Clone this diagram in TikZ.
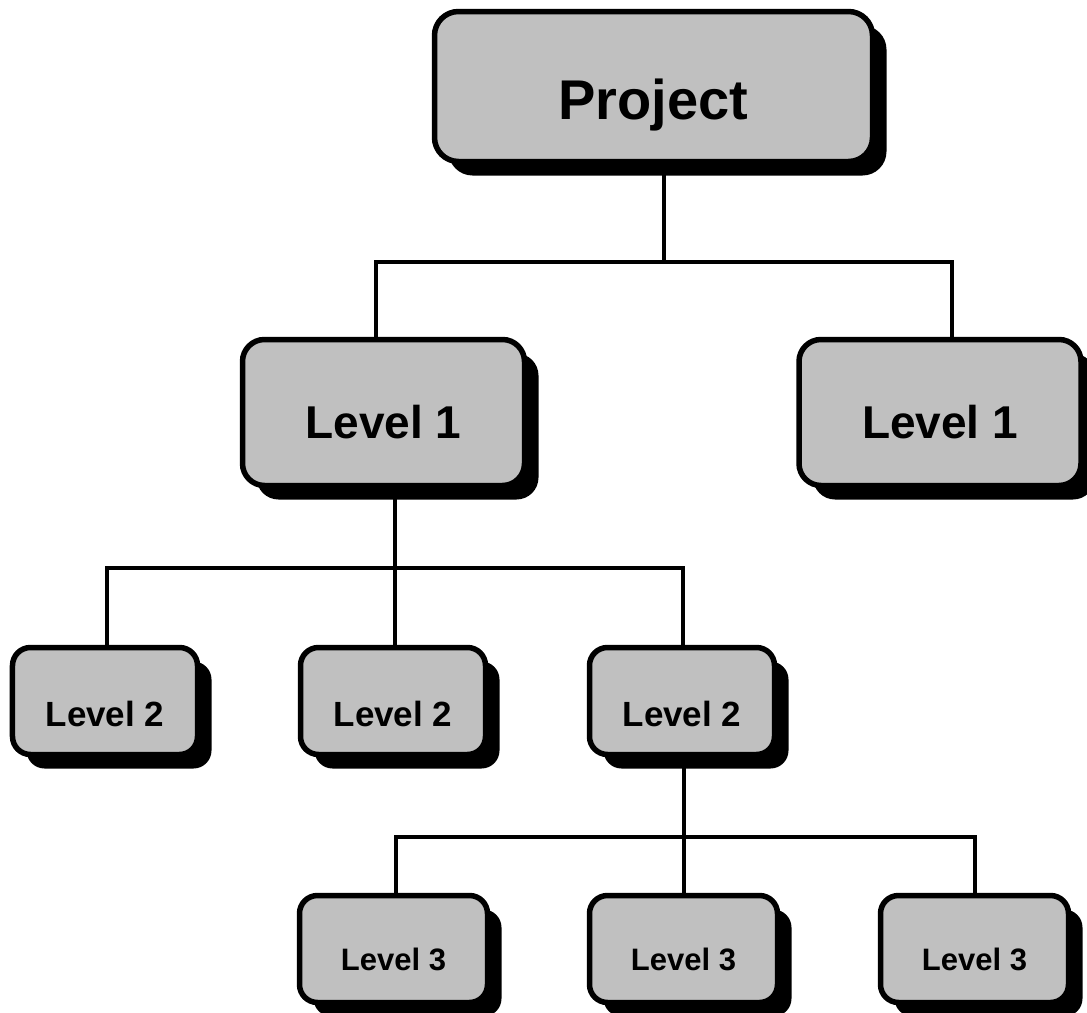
\documentclass[tikz,border=0pt]{standalone}
\usepackage{fontspec}
\setmainfont{Liberation Sans}
\usetikzlibrary{shadows}
\definecolor{boxgray}{HTML}{C0C0C0}
\begin{document}
\begin{tikzpicture}[x=1bp,y=-1bp,
  box/.style={draw=black, fill=boxgray, line width=5.5bp, rectangle,
    inner sep=0pt, text depth=0pt, font=\bfseries,
    drop shadow={shadow xshift=14bp, shadow yshift=-14bp, fill=black, opacity=1}},
  topbox/.style={box, rounded corners=24bp, minimum width=438bp, minimum height=150bp,
    text height=66bp, font=\bfseries\fontsize{56bp}{60bp}\selectfont},
  onebox/.style={box, rounded corners=22bp, minimum width=282bp, minimum height=146bp,
    text height=51bp, font=\bfseries\fontsize{46bp}{50bp}\selectfont},
  twobox/.style={box, rounded corners=18bp, minimum width=185bp, minimum height=107bp,
    text height=50bp, font=\bfseries\fontsize{35bp}{38bp}\selectfont},
  threebox/.style={box, rounded corners=18bp, minimum width=188bp, minimum height=107bp,
    text height=42bp, font=\bfseries\fontsize{31bp}{34bp}\selectfont},
  wire/.style={line width=4.5bp, line join=miter}]
\useasboundingbox (0,0) rectangle (1087,1013);

% boxes
\node[topbox] (proj) at (653.5,86.5) {Project};
\node[onebox] (l1a) at (383.5,412.5) {Level 1};
\node[onebox] (l1b) at (940,412.5) {Level 1};
\node[twobox] (l2a) at (105,701) {Level 2};
\node[twobox] (l2b) at (393,701) {Level 2};
\node[twobox] (l2c) at (682,701) {Level 2};
\node[threebox] (l3a) at (393.5,949) {Level 3};
\node[threebox] (l3b) at (683.5,949) {Level 3};
\node[threebox] (l3c) at (974.5,949) {Level 3};

% bus bars
\coordinate (b1m) at (664,262);
\coordinate (b1l) at (376,262);
\coordinate (b1r) at (952,262);
\coordinate (b2m) at (395,568);
\coordinate (b2l) at (107,568);
\coordinate (b2r) at (683,568);
\coordinate (b3m) at (684,837);
\coordinate (b3l) at (396,837);
\coordinate (b3r) at (975,837);

% connectors
\draw[wire] (proj.south -| b1m) -- (b1m);
\draw[wire] (l1a.north -| b1l) -- (b1l) -- (b1r) -- (l1b.north -| b1r);

\draw[wire] (l1a.south -| b2m) -- (l2b.north -| b2m);
\draw[wire] (l2a.north -| b2l) -- (b2l) -- (b2r) -- (l2c.north -| b2r);

\draw[wire] (l2c.south -| b3m) -- (l3b.north -| b3m);
\draw[wire] (l3a.north -| b3l) -- (b3l) -- (b3r) -- (l3c.north -| b3r);
\end{tikzpicture}
\end{document}
